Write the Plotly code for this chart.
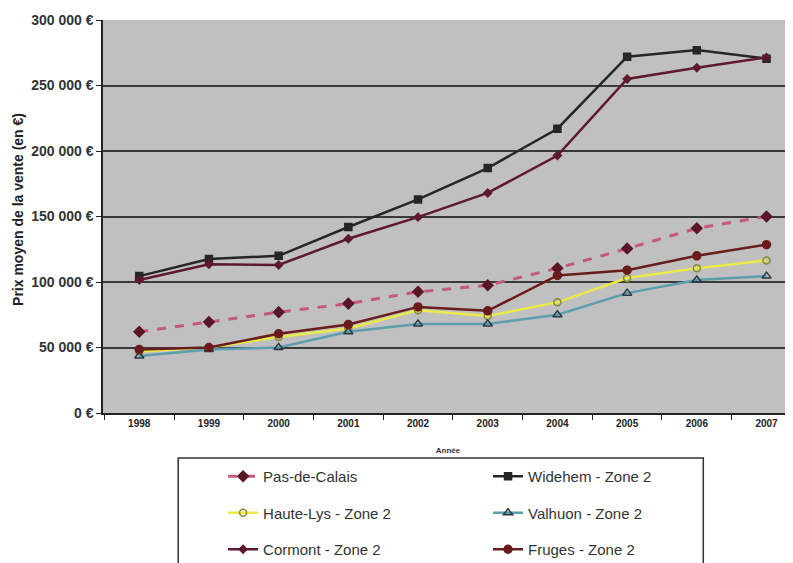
import plotly.graph_objects as go

years = ["1998", "1999", "2000", "2001", "2002", "2003", "2004", "2005", "2006", "2007"]

pas_de_calais = [62000, 69500, 77000, 83500, 92500, 97500, 110500, 125500, 141000, 150000]
widehem = [104500, 117500, 120000, 142000, 163000, 187000, 217000, 272000, 277000, 270500]
haute_lys = [47000, 50000, 58000, 64500, 78500, 74000, 84500, 103000, 110500, 116500]
valhuon = [43500, 48500, 50000, 62000, 68000, 68000, 75000, 91500, 101500, 104500]
cormont = [101500, 113500, 113000, 133000, 149500, 168000, 196500, 255000, 263500, 271500]
fruges = [48500, 50000, 60500, 67500, 81000, 78000, 105000, 109000, 120000, 128500]

y_tick_vals = [0, 50000, 100000, 150000, 200000, 250000, 300000]
y_tick_text = ["0 €", "50 000 €", "100 000 €", "150 000 €", "200 000 €", "250 000 €", "300 000 €"]

fig = go.Figure()

def add(name, y, color, width, dash, symbol, msize, mcolor, mline, legend, group):
    fig.add_trace(go.Scatter(
        x=years, y=y, name=name, mode="lines+markers",
        line=dict(color=color, width=width, dash=dash),
        marker=dict(symbol=symbol, size=msize, color=mcolor,
                    line=dict(color=mline, width=1.5)),
        legend=legend, legendgroup=group,
    ))

add("Pas-de-Calais", pas_de_calais, "#c4587e", 3, "dash", "diamond", 8, "#5a1626", "#5a1626", "legend", "a")
add("Widehem - Zone 2", widehem, "#262626", 2.5, "solid", "square", 7, "#262626", "#262626", "legend2", "b")
add("Haute-Lys - Zone 2", haute_lys, "#e9e94a", 2.5, "solid", "circle-open", 7, "#8a8a30", "#8a8a30", "legend", "c")
add("Valhuon - Zone 2", valhuon, "#5b9fae", 2.5, "solid", "triangle-up-open", 8, "#2a3a44", "#2a3a44", "legend2", "d")
add("Cormont - Zone 2", cormont, "#5e1a2c", 2.5, "solid", "diamond", 6, "#5e1a2c", "#5e1a2c", "legend", "e")
add("Fruges - Zone 2", fruges, "#6a1c1c", 2.5, "solid", "circle", 8, "#6a1c1c", "#6a1c1c", "legend2", "f")

leg_common = dict(
    orientation="v", bgcolor="rgba(0,0,0,0)", borderwidth=0,
    font=dict(family="Liberation Sans, Arial, sans-serif", size=15, color="#333333"),
    tracegroupgap=14, yanchor="top", xanchor="left", itemwidth=30,
    xref="container", yref="container",
)

fig.update_layout(
    width=785, height=555,
    margin=dict(l=95, r=0, t=12, b=150, autoexpand=False),
    paper_bgcolor="white",
    plot_bgcolor="#c0c0c0",
    font=dict(family="Liberation Sans, Arial, sans-serif", color="#333333"),
    legend=dict(x=0.274, y=0.1856, **leg_common),
    legend2=dict(x=0.6115, y=0.1856, **leg_common),
    shapes=[dict(type="rect", xref="paper", yref="paper",
                 x0=0.109, x1=0.870, y0=-0.4, y1=-0.1145,
                 line=dict(color="#333333", width=1.5), fillcolor="rgba(0,0,0,0)")],
    annotations=[dict(text="Prix moyen de la vente (en €)", textangle=-90,
                      xref="paper", yref="paper", x=-0.123, y=0.517,
                      xanchor="center", yanchor="middle", showarrow=False,
                      font=dict(size=14, weight="bold", color="#222222"))],
    xaxis=dict(
        type="category", range=[-0.52, 9.38],
        showgrid=False, showline=True, linecolor="#222222", linewidth=1.5,
        ticks="outside", tickson="boundaries", ticklen=5, tickcolor="#222222",
        tickfont=dict(size=10, family="Liberation Sans, Arial, sans-serif", color="#222222", weight="bold"),
        title=dict(text="Année", font=dict(size=8, weight="bold", color="#333333"), standoff=20),
    ),
    yaxis=dict(
        range=[0, 300000], tickvals=y_tick_vals, ticktext=y_tick_text,
        showgrid=True, gridcolor="#3a3a3a", gridwidth=2,
        showline=True, linecolor="#222222", linewidth=1.5,
        ticks="outside", ticklen=5, tickcolor="#222222",
        tickfont=dict(size=14, weight="bold", color="#333333"),
        zeroline=False,
    ),
)

fig.write_html("out.html")
